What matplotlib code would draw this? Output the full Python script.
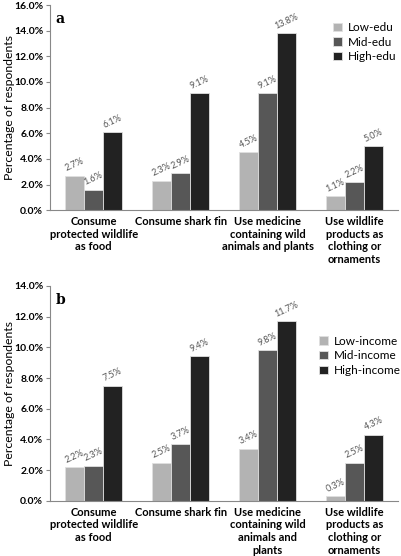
import matplotlib
matplotlib.use("Agg")
import matplotlib.pyplot as plt
import numpy as np

categories = ["Consume\nprotected wildlife\nas food", "Consume shark fin",
              "Use medicine\ncontaining wild\nanimals and plants",
              "Use wildlife\nproducts as\nclothing or\nornaments"]
categories_b = ["Consume\nprotected wildlife\nas food", "Consume shark fin",
                "Use medicine\ncontaining wild\nanimals and\nplants",
                "Use wildlife\nproducts as\nclothing or\nornaments"]

edu_labels = ["Low-edu", "Mid-edu", "High-edu"]
low_edu = [2.7, 2.3, 4.5, 1.1]
mid_edu = [1.6, 2.9, 9.1, 2.2]
high_edu = [6.1, 9.1, 13.8, 5.0]

inc_labels = ["Low-income", "Mid-income", "High-income"]
low_inc = [2.2, 2.5, 3.4, 0.3]
mid_inc = [2.3, 3.7, 9.8, 2.5]
high_inc = [7.5, 9.4, 11.7, 4.3]

colors = ["#b3b3b3", "#575757", "#222222"]

plt.rcParams['font.family'] = ['Lato', 'DejaVu Sans']

fig = plt.figure(figsize=(4.01, 5.56), dpi=100)
ax1 = fig.add_axes([0.125, 0.622, 0.868, 0.369])
ax2 = fig.add_axes([0.125, 0.099, 0.868, 0.387])


def draw(ax, series, labels, cats, ymax, letter, legend_anchor):
    x = np.arange(len(cats))
    w = 0.22
    for i, (vals, lab) in enumerate(zip(series, labels)):
        pos = x + (i - 1) * w
        ax.bar(pos, vals, w, color=colors[i], edgecolor="#e0e0e0", linewidth=0.6, label=lab)
        for p, v in zip(pos, vals):
            ax.text(p, v + ymax * 0.012, f"{v:.1f}%", rotation=25, ha="center", va="bottom",
                    fontsize=6.5, color="#555555")
    ax.set_xlim(-0.5, len(cats) - 0.5)
    ax.set_ylim(0, ymax)
    ticks = np.arange(0, ymax + 0.01, 2)
    ax.set_yticks(ticks)
    ax.set_yticklabels([f"{t:.1f}%" for t in ticks], fontsize=7.5, fontweight="bold")
    ax.set_xticks(x)
    ax.set_xticklabels(cats, fontsize=8, fontweight="bold", linespacing=1.2)
    ax.tick_params(axis="x", length=0, pad=4)
    ax.tick_params(axis="y", length=3, width=0.8, color="#888888", pad=2)
    ax.spines["top"].set_visible(False)
    ax.spines["right"].set_visible(False)
    ax.spines["left"].set_color("#888888")
    ax.spines["bottom"].set_color("#888888")
    ax.set_ylabel("Percentage of respondents", fontsize=8.8)
    ax.yaxis.set_label_coords(-0.1, 0.5)
    ax.text(0.015, 0.965, letter, transform=ax.transAxes, fontsize=10, fontweight="bold",
            family="DejaVu Serif", va="top")
    ax.legend(loc="upper left", bbox_to_anchor=legend_anchor, frameon=False, fontsize=8.5,
              handlelength=0.7, handleheight=0.7, handletextpad=0.5, labelspacing=0.3,
              borderaxespad=0)


draw(ax1, [low_edu, mid_edu, high_edu], edu_labels, categories, 16, "a", (0.80, 0.94))
draw(ax2, [low_inc, mid_inc, high_inc], inc_labels, categories_b, 14, "b", (0.76, 0.79))

fig.savefig("out.png", dpi=100)
